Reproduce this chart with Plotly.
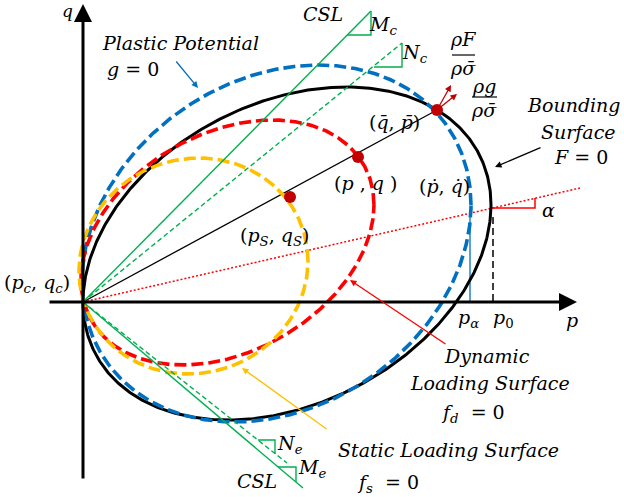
import numpy as np
import plotly.graph_objects as go

# ---- data (origin-relative p/q units of the schematic) ----
# yield-type surfaces: left, right, bottom, top extents, q at leftmost point
surf_names = ["Bounding Surface F=0", "Plastic Potential g=0",
              "Dynamic Loading Surface fd=0", "Static Loading Surface fs=0"]
surf_left = [0, -1, -2, -4]
surf_right = [408, 388, 291, 225]
surf_bottom = [-118, -120, -63, -72]
surf_top = [215, 237, 182, 144]
surf_qleft = [0, 20, 22, 31]

# straight lines from origin (end points)
csl_c_end = [288, 291]
nc_end = [319, 259]
csl_e_end = [220, -186]
ne_end = [204, -161]
radial_end = [354, 192]
alpha_end = [497, 114]

# stress points (bar, current, static)
pt_p = [354, 275, 207]
pt_q = [192, 145, 105]

p0 = 410
p_alpha = 387

# ---- styles ----
surf_colors = ["#000000", "#0070C0", "#FF0000", "#FFC000"]
surf_widths = [3, 3.6, 3.6, 3.6]
surf_dash = ["solid", "12px,5px", "12px,5px", "12px,5px"]
GREEN = "#00B050"
FONT = "DejaVu Serif"
FS = 19

fig = go.Figure()

def ellipse(L, R, B, T, yL, n=600):
    t = np.linspace(0, 2 * np.pi, n)
    cx, W = (L + R) / 2, (R - L) / 2
    cy, H = (T + B) / 2, (T - B) / 2
    c1 = cy - yL
    c2 = np.sqrt(H ** 2 - c1 ** 2)
    return cx + W * np.cos(t), cy + c1 * np.cos(t) + c2 * np.sin(t)

def line(xs, ys, color, width, dash="solid"):
    fig.add_trace(go.Scatter(x=xs, y=ys, mode="lines", hoverinfo="skip",
                             line=dict(color=color, width=width, dash=dash),
                             showlegend=False))

# thin helper lines (under surfaces)
line([0, radial_end[0]], [0, radial_end[1]], "#000000", 1.3)
line([0, alpha_end[0]], [0, alpha_end[1]], "#FF0000", 1.5, "2px,2px")
line([p0, p0], [85, 0], "#000000", 1.5, "7px,4px")
line([p_alpha, p_alpha], [92, 0], "#0070C0", 1.3)
# alpha marker
line([408, 452, 452], [94, 94, 104], "#FF0000", 1.5)

for i in range(4):
    xs, ys = ellipse(surf_left[i], surf_right[i], surf_bottom[i], surf_top[i], surf_qleft[i])
    line(xs, ys, surf_colors[i], surf_widths[i], surf_dash[i])

# CSL lines and slope triangles
line([0, csl_c_end[0]], [0, csl_c_end[1]], GREEN, 1.4)
line([264, 288, 288], [267, 267, 291], GREEN, 1.4)
line([0, nc_end[0]], [0, nc_end[1]], GREEN, 1.4, "5px,3px")
line([291, 319, 319], [235, 235, 259], GREEN, 1.4)
line([0, csl_e_end[0]], [0, csl_e_end[1]], GREEN, 1.4)
line([195, 213, 213], [-165, -165, -180], GREEN, 1.4)
line([0, ne_end[0]], [0, ne_end[1]], GREEN, 1.4, "5px,3px")
line([175, 192, 192], [-138, -138, -152], GREEN, 1.4)

# fraction bars
line([369, 392], [247, 247], "#000000", 1.2)
line([389, 414], [205, 205], "#000000", 1.2)

# stress points
fig.add_trace(go.Scatter(x=pt_p, y=pt_q, mode="markers", hoverinfo="skip",
                         marker=dict(color="#C00000", size=12), showlegend=False))

def arrow(x0, y0, x1, y1, color, width, size=1.0):
    fig.add_annotation(x=x1, y=y1, ax=x0, ay=y0, xref="x", yref="y",
                       axref="x", ayref="y", text="", showarrow=True,
                       arrowhead=2, arrowsize=size, arrowwidth=width,
                       arrowcolor=color, standoff=0, startstandoff=0)

# axes
arrow(0, -178, 0, 298, "#000000", 3, 1.2)
arrow(-35, 0, 494, 0, "#000000", 3, 1.2)
# gradient arrows
arrow(354, 192, 368, 217, "#C00000", 1.3, 1.0)
arrow(354, 192, 374, 208, "#C00000", 1.3, 1.0)
# pointers
arrow(92, 242, 115, 214, "#0070C0", 1.3, 1.0)
arrow(459, 155, 412, 135, "#000000", 1.3, 1.0)
arrow(364, -43, 267, 22, "#FF0000", 1.3, 1.0)
arrow(245, -128, 159, -66, "#FFC000", 1.3, 1.0)

labels = [
    ("<i>q</i>", -16, 291, 17),
    ("<i>Plastic Potential</i>", 97, 259, FS),
    ("<i>g</i> = 0", 50, 233, FS),
    ("<i>CSL</i>", 240, 288, FS),
    ("<i>M<sub>c</sub></i>", 300, 277, FS),
    ("<i>N<sub>c</sub></i>", 332, 249, FS),
    ("<i>ρF</i>", 380, 263, FS),
    ("<i>ρσ̄</i>", 380, 234, FS),
    ("<i>ρg</i>", 401, 216, FS),
    ("<i>ρσ̄</i>", 401, 192, FS),
    ("<i>Bounding</i>", 491, 197, FS),
    ("<i>Surface</i>", 495, 170, FS),
    ("<i>F</i> = 0", 498, 145, FS),
    ("(<i>q̄</i>, <i>p̄</i>)", 311, 180, FS),
    ("(<i>p</i> , <i>q</i> )", 282, 119, FS),
    ("(<i>ṗ</i>, <i>q̇</i>)", 361, 116, FS),
    ("(<i>p<sub>S</sub></i>, <i>q<sub>S</sub></i>)", 192, 66, FS),
    ("<i>α</i>", 465, 92, FS),
    ("(<i>p<sub>c</sub></i>, <i>q<sub>c</sub></i>)", -46, 19, FS),
    ("<i>p<sub>α</sub></i>", 385, -16, FS),
    ("<i>p</i><sub>0</sub>", 420, -16, FS),
    ("<i>p</i>", 489, -18, FS),
    ("<i>Dynamic</i>", 404, -54, FS),
    ("<i>Loading Surface</i>", 407, -81, FS),
    ("<i>f<sub>d</sub></i>  = 0", 390, -111, FS),
    ("<i>Static Loading Surface</i>", 365, -148, FS),
    ("<i>f<sub>s</sub></i>  = 0", 305, -181, FS),
    ("<i>N<sub>e</sub></i>", 207, -142, FS),
    ("<i>M<sub>e</sub></i>", 229, -166, FS),
    ("<i>CSL</i>", 174, -179, FS),
]
for txt, x, y, s in labels:
    fig.add_annotation(x=x, y=y, xref="x", yref="y", text=txt, showarrow=False,
                       font=dict(family=FONT, size=s, color="#000000"))

fig.update_layout(width=624, height=497, autosize=False,
                  margin=dict(l=0, r=0, t=0, b=0),
                  paper_bgcolor="white", plot_bgcolor="white",
                  xaxis=dict(range=[-83, 541], visible=False, fixedrange=True),
                  yaxis=dict(range=[-195, 302], visible=False, fixedrange=True))
fig.write_html("out.html", config={"displayModeBar": False},
               post_script="document.body.style.margin='0px';")
